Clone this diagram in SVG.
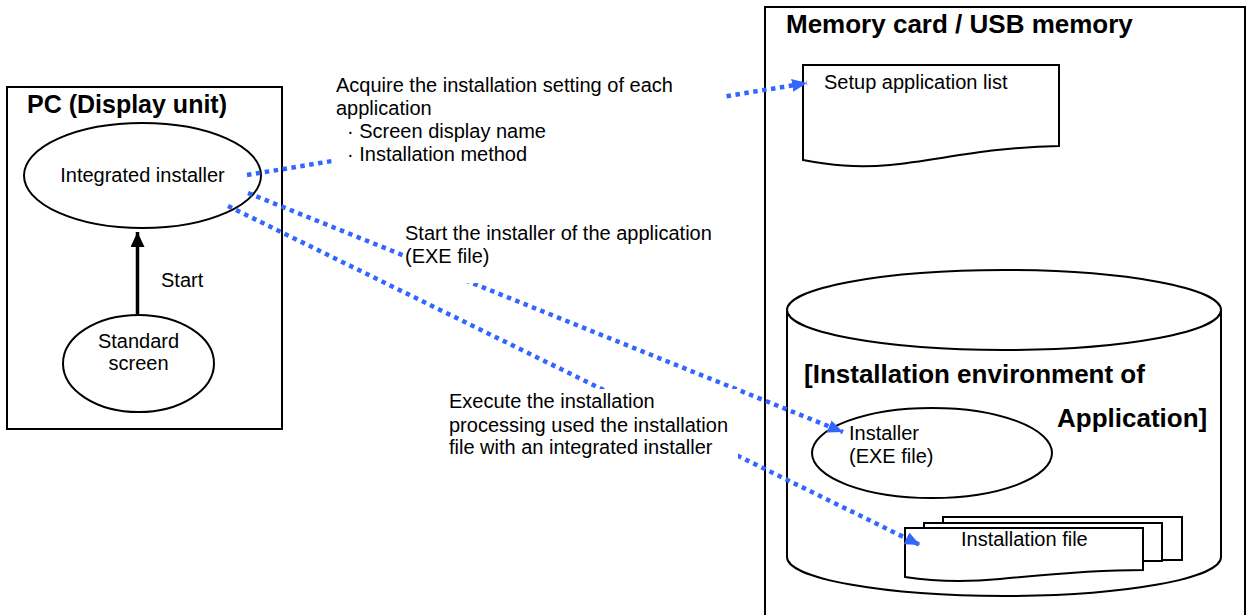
<svg xmlns="http://www.w3.org/2000/svg" width="1247" height="615" viewBox="0 0 1247 615">
<style>
  .t{font-family:"Liberation Sans",Arial,sans-serif;font-size:20px;fill:#000}
  .b{font-family:"Liberation Sans",Arial,sans-serif;font-weight:bold;font-size:26px;fill:#000}
  .shape{fill:#fff;stroke:#000;stroke-width:2}
  .dot{fill:none;stroke:#3366ff;stroke-width:4.5;stroke-dasharray:4.5 4.5}
  .bg{fill:#fff;stroke:none}
</style>
<defs>
  <marker id="blueArrow" markerUnits="userSpaceOnUse" markerWidth="16" markerHeight="14" refX="15" refY="6.5" orient="auto">
    <path d="M0,0 L15,6.5 L0,13 Z" fill="#3366ff"/>
  </marker>
  <marker id="blackArrow" markerUnits="userSpaceOnUse" markerWidth="16" markerHeight="16" refX="15" refY="7" orient="auto">
    <path d="M0,0 L15,7 L0,14 Z" fill="#000"/>
  </marker>
</defs>
<rect width="1247" height="615" fill="#fff"/>

<g id="pc-box">
  <rect class="shape" x="7" y="87" width="275" height="342"/>
  <text class="b" x="27" y="113" style="font-size:25px">PC (Display unit)</text>
</g>

<g id="memory-box">
  <rect class="shape" x="765" y="7" width="480" height="650"/>
  <text class="b" x="786" y="33">Memory card / USB memory</text>
</g>

<g id="setup-list">
  <path class="shape" d="M803,65 H1059 V146 C990,147 940,160 890,165 C855,168 830,165 803,160 Z"/>
  <text class="t" x="824" y="89">Setup application list</text>
</g>

<g id="install-env">
  <path class="shape" d="M787,310 A217,40 0 0 1 1221,310 V557 A217,39 0 0 1 787,557 Z"/>
  <path fill="none" stroke="#000" stroke-width="2" d="M787,310 A217,40 0 0 0 1221,310"/>
  <text class="b" x="804" y="383">[Installation environment of</text>
  <text class="b" x="1057" y="427">Application]</text>
</g>

<g id="installer-exe">
  <ellipse class="shape" cx="932" cy="453" rx="120" ry="45"/>
  <text class="t" x="849" y="440">Installer</text>
  <text class="t" x="849" y="463">(EXE file)</text>
</g>

<g id="installation-file">
  <rect class="shape" x="943" y="517" width="239" height="43"/>
  <rect class="shape" x="924" y="523" width="238" height="38"/>
  <path class="shape" d="M905,528 H1143 V570 C1090,570 1040,575 1000,579 C960,583 930,581 905,577 Z"/>
  <text class="t" x="961" y="546">Installation file</text>
</g>

<g id="integrated-installer">
  <ellipse class="shape" cx="142.5" cy="175.5" rx="118.5" ry="52.5"/>
  <text class="t" x="142.5" y="182" text-anchor="middle">Integrated installer</text>
</g>

<g id="standard-screen">
  <ellipse class="shape" cx="138.5" cy="363.5" rx="75.5" ry="48.5"/>
  <text class="t" x="138.5" y="348" text-anchor="middle">Standard</text>
  <text class="t" x="138.5" y="370" text-anchor="middle">screen</text>
</g>

<g id="connectors">
  <line x1="137.5" y1="314" x2="137.5" y2="232" stroke="#000" stroke-width="3.5" marker-end="url(#blackArrow)"/>
  <line class="dot" x1="247" y1="175" x2="807" y2="83" marker-end="url(#blueArrow)"/>
  <line class="dot" x1="248" y1="193" x2="843" y2="432" marker-end="url(#blueArrow)"/>
  <line class="dot" x1="228" y1="206" x2="920" y2="545" marker-end="url(#blueArrow)"/>
</g>

<g id="label-start">
  <text class="t" x="161" y="287">Start</text>
</g>

<g id="label-acquire">
  <rect class="bg" x="335" y="72" width="388" height="98"/>
  <text class="t" x="336" y="92">Acquire the installation setting of each</text>
  <text class="t" x="336" y="115">application</text>
  <text class="t" x="347" y="138">· Screen display name</text>
  <text class="t" x="347" y="161">· Installation method</text>
</g>

<g id="label-start-installer">
  <rect class="bg" x="404" y="222" width="312" height="61"/>
  <text class="t" x="405" y="240">Start the installer of the application</text>
  <text class="t" x="405" y="263">(EXE file)</text>
</g>

<g id="label-execute">
  <rect class="bg" x="447" y="389" width="291" height="73"/>
  <text class="t" x="449" y="408">Execute the installation</text>
  <text class="t" x="449" y="432">processing used the installation</text>
  <text class="t" x="449" y="454">file with an integrated installer</text>
</g>
</svg>
